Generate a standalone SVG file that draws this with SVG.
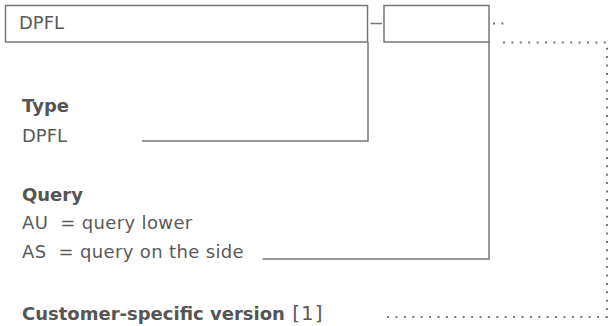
<svg xmlns="http://www.w3.org/2000/svg" width="609" height="326" viewBox="0 0 609 326">
<style>
text{font-family:"DejaVu Sans","Liberation Sans",sans-serif;font-size:18px;fill:#5a5a5a;white-space:pre}
.b{font-weight:bold;fill:#555}
.w{letter-spacing:0.35px}
.box{fill:#fff;stroke:#777;stroke-width:1.5}
.ln{fill:none;stroke:#777;stroke-width:1.5}
.dot{fill:none;stroke:#777;stroke-width:2;stroke-dasharray:2 6.4;stroke-linecap:butt}
</style>
<rect width="609" height="326" fill="#fff"/>
<g id="connectors">
<path class="ln" d="M368 42V141H142"/>
<path class="ln" d="M489 42V259H262.5"/>
<path class="ln" d="M370.5 23.5H382"/>
<path class="dot" d="M493 23.5H505"/>
<path class="dot" d="M503 42.5H607V317H385"/>
</g>
<g id="box-type">
<rect class="box" x="5.5" y="5.5" width="362" height="36.5"/>
<text x="19" y="29">DPFL</text>
</g>
<g id="box-query">
<rect class="box" x="384" y="5.5" width="105" height="36.5"/>
</g>
<g id="label-type">
<text class="b" x="22" y="112">Type</text>
<text x="22" y="142">DPFL</text>
</g>
<g id="label-query">
<text class="b" x="22" y="201">Query</text>
<text class="w" x="22" y="229">AU  = query lower</text>
<text class="w" x="22" y="258">AS  = query on the side</text>
</g>
<g id="label-custom">
<text x="22" y="320"><tspan class="b">Customer-specific version</tspan><tspan font-size="20" letter-spacing="1"> [1]</tspan></text>
</g>
</svg>
